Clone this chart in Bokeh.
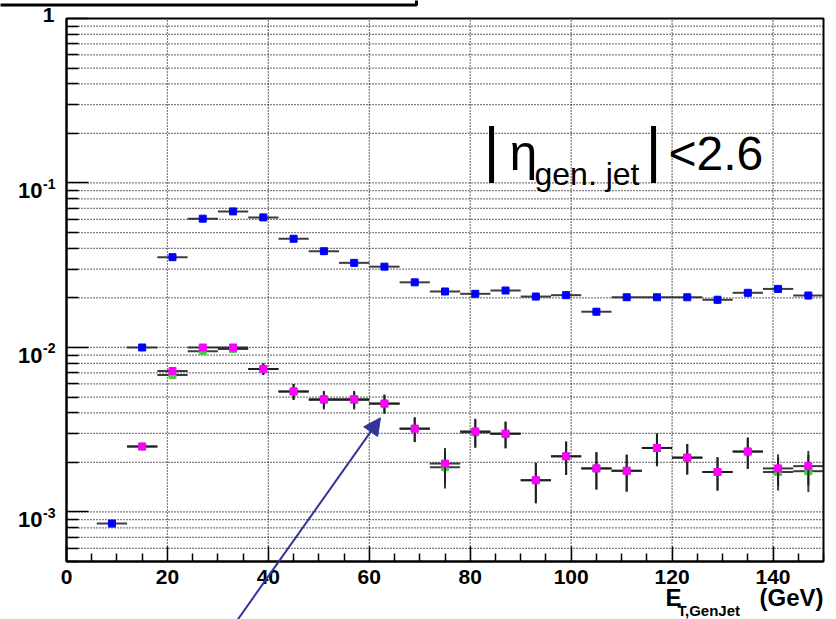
import math

from bokeh.plotting import figure
from bokeh.models import (FixedTicker, CustomJSTickFormatter, Label, Arrow,
                          NormalHead, Range1d, ColumnDataSource)
from bokeh.embed import file_html
from bokeh.resources import INLINE

# E_T bins of the generated jet (6 GeV wide)
bin_centers = [9, 15, 21, 27, 33, 39, 45, 51, 57, 63, 69, 75,
               81, 87, 93, 99, 105, 111, 117, 123, 129, 135, 141, 147]
half_bin = 3.0

# upper (blue) series
blue_vals = [0.00085, 0.0100, 0.0354, 0.0607, 0.0672, 0.0618, 0.0458, 0.0385,
             0.0327, 0.0310, 0.0249, 0.0219, 0.0212, 0.0222, 0.0204, 0.0208,
             0.0165, 0.0202, 0.0202, 0.0202, 0.0195, 0.0215, 0.0227, 0.0207]
blue_errs = [0.00001, 0.0002, 0.0008, 0.0012, 0.0013, 0.0012, 0.0010, 0.0009,
             0.0008, 0.0008, 0.0008, 0.0009, 0.0010, 0.0010, 0.0010, 0.0010,
             0.0009, 0.0010, 0.0010, 0.0010, 0.0011, 0.0011, 0.0012, 0.0011]

# lower series start at the 15 GeV bin
low_centers = bin_centers[1:]
magenta_vals = [0.0025, 0.0072, 0.0100, 0.0100, 0.0074, 0.0054, 0.00485, 0.00485,
                0.00456, 0.00321, 0.00197, 0.00309, 0.00299, 0.00156, 0.00218,
                0.00184, 0.00178, 0.00245, 0.00214, 0.00175, 0.00233, 0.00184, 0.0019]
magenta_errs = [0.00012, 0.0003, 0.0004, 0.0005, 0.0006, 0.0006, 0.0006, 0.0006,
                0.0006, 0.00055, 0.00048, 0.0006, 0.00055, 0.00043, 0.0005,
                0.00047, 0.00045, 0.00055, 0.00045, 0.0004, 0.0005, 0.0004, 0.00045]
green_vals = [0.0025, 0.0068, 0.0095, 0.0098, 0.0074, 0.0054, 0.0048, 0.0048,
              0.00456, 0.00321, 0.00187, 0.00305, 0.00299, 0.00156, 0.00218,
              0.00184, 0.00178, 0.00245, 0.00214, 0.00175, 0.00233, 0.00175, 0.00177]
green_errs = magenta_errs

x_lo, x_hi = 0.0, 150.0
y_lo, y_hi = 5e-4, 1.0
x_major = [0, 20, 40, 60, 80, 100, 120, 140]
x_minor = [v for v in range(0, 151, 5) if v % 20 != 0]
y_major = [1e-3, 1e-2, 1e-1, 1.0]
y_minor = [k * 10.0 ** d for d in (-4, -3, -2, -1) for k in range(2, 10)
           if y_lo <= k * 10.0 ** d <= y_hi]
y_major_exp = ["-3", "-2", "-1", None]

# canvas and the pixel box that holds the histogram frame
W, H = 836, 619
BOX_L, BOX_R, BOX_T, BOX_B = 66, 823, 18, 561
ux = (BOX_R - BOX_L) / (x_hi - x_lo)                       # px per GeV
uy = (BOX_B - BOX_T) / math.log10(y_hi / y_lo)             # px per decade


def dx(px):
    return x_lo + (px - BOX_L) / ux


def dy(py):
    return y_hi * 10 ** (-(py - BOX_T) / uy)


p = figure(width=W, height=H, y_axis_type="log",
           x_range=Range1d(dx(0), dx(W)), y_range=Range1d(dy(H), dy(0)),
           output_backend="svg", toolbar_location=None,
           min_border=0, min_border_left=0, min_border_right=0,
           min_border_top=0, min_border_bottom=0)
p.background_fill_color = "white"
p.border_fill_color = "white"
p.outline_line_color = None
p.xgrid.visible = False
p.ygrid.visible = False

# axes pinned to the frame edges, ROOT style ticks pointing inwards
p.xaxis.fixed_location = y_lo
p.yaxis.fixed_location = x_lo
p.xaxis.bounds = (x_lo, x_hi)
p.yaxis.bounds = (y_lo, y_hi)
p.xaxis.ticker = FixedTicker(ticks=x_major, minor_ticks=x_minor)
p.yaxis.ticker = FixedTicker(ticks=y_major, minor_ticks=y_minor)
for ax in (p.xaxis[0], p.yaxis[0]):
    ax.axis_line_color = "black"
    ax.axis_line_width = 2
    ax.major_tick_out = 0
    ax.minor_tick_out = 0
    ax.major_tick_line_color = "black"
    ax.minor_tick_line_color = "black"
    ax.major_tick_line_width = 1.5
    ax.minor_tick_line_width = 1.5
p.xaxis.major_tick_in = 15
p.xaxis.minor_tick_in = 8
p.yaxis.major_tick_in = 22
p.yaxis.minor_tick_in = 12
p.xaxis.major_label_text_font = "Liberation Sans"
p.xaxis.major_label_text_font_style = "bold"
p.xaxis.major_label_text_font_size = "21px"
p.xaxis.major_label_text_color = "black"
p.xaxis.major_label_standoff = 8
p.yaxis.formatter = CustomJSTickFormatter(code="return '';")
p.yaxis.major_label_text_font_size = "1px"

# dotted grid: vertical at major x ticks, horizontal at every y tick
grid_dash = "1 2"
vx = [v for v in x_major if x_lo < v < x_hi]
p.segment(x0=vx, y0=[y_lo] * len(vx), x1=vx, y1=[y_hi] * len(vx),
          line_color="black", line_width=1.25, line_dash=grid_dash)
hy = [v for v in sorted(y_major + y_minor) if y_lo < v < y_hi]
p.segment(x0=[x_lo] * len(hy), y0=hy, x1=[x_hi] * len(hy), y1=hy,
          line_color="black", line_width=1.25, line_dash=grid_dash)

# frame of the histogram pad
p.quad(left=[x_lo], right=[x_hi], bottom=[y_lo], top=[y_hi],
       fill_color=None, line_color="black", line_width=2)

# edge of the title box at the top of the canvas
p.quad(left=[dx(-6)], right=[dx(416)], bottom=[dy(4.5)], top=[dy(-20)],
       fill_color=None, line_color="black", line_width=3)


def draw_series(xs, vals, errs, color, size):
    src = ColumnDataSource(dict(
        x=xs, y=vals,
        x0=[x - half_bin for x in xs], x1=[x + half_bin for x in xs],
        ylo=[v - e for v, e in zip(vals, errs)],
        yhi=[v + e for v, e in zip(vals, errs)]))
    p.segment(x0="x0", y0="y", x1="x1", y1="y", source=src,
              line_color="#1a1a1a", line_width=2, line_alpha=0.85)
    p.segment(x0="x", y0="ylo", x1="x", y1="yhi", source=src,
              line_color="#1a1a1a", line_width=2, line_alpha=0.85)
    p.scatter(x="x", y="y", source=src, marker="square", size=size,
              fill_color=color, line_color=color)


draw_series(bin_centers, blue_vals, blue_errs, "#0000ff", 7)
draw_series(low_centers, green_vals, green_errs, "#44cc44", 7)
draw_series(low_centers, magenta_vals, magenta_errs, "#ff00ff", 7)

FONT = "Liberation Sans"
BASE_SHIFT = 0.35   # baseline correction, in units of the font size


def text(x_px, base_px, txt, size, bold=False, align="left"):
    p.add_layout(Label(x=dx(x_px), y=dy(base_px - BASE_SHIFT * size), text=txt,
                       text_align=align, text_baseline="alphabetic",
                       text_font=FONT, text_font_style="bold" if bold else "normal",
                       text_font_size=f"{size}px", text_color="black"))


def ypx(v):
    return BOX_T + uy * math.log10(y_hi / v)


# y tick labels written as 10 with a raised exponent
for tick, exp_txt in zip(y_major, y_major_exp):
    t = ypx(tick)
    if exp_txt is None:
        text(54, t + 4, "1", 21, bold=True, align="right")
    else:
        text(42, t + 15.5, "10", 22, bold=True, align="right")
        text(42.5, t + 5.5, exp_txt, 14, bold=True)

# x axis title: E_{T,GenJet} (GeV)
text(665, 605, "E", 24, bold=True)
text(677, 615, "T,GenJet", 15, bold=True)
text(823, 605, "(GeV)", 24, bold=True, align="right")

# pseudorapidity cut |eta_gen.jet| < 2.6
text(483, 170, "|", 62)
text(509, 170, "η", 50)
text(534, 185, "gen. jet", 32)
text(645, 170, "|", 62)
text(668, 170, "<2.6", 48)

# arrow pointing at the 63 GeV bin
p.add_layout(Arrow(x_start=dx(237.3), y_start=dy(619), x_end=dx(380), y_end=dy(417.3),
                   line_color="#333399", line_width=2,
                   end=NormalHead(size=17, fill_color="#333399",
                                  line_color="#333399")))

open("out.html", "w").write(file_html(p, INLINE))
